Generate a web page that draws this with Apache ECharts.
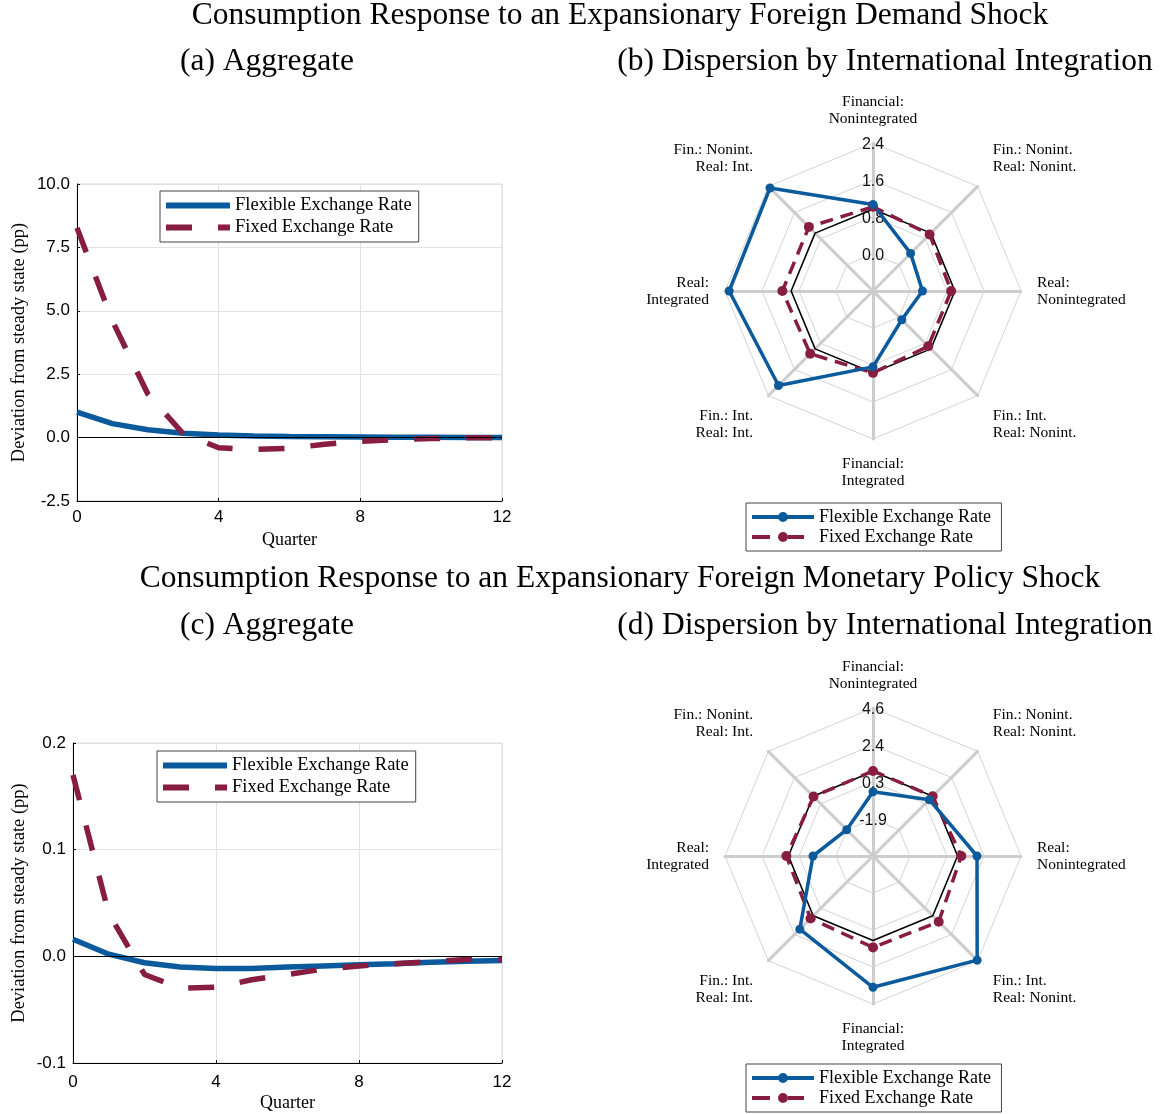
<!DOCTYPE html>
<html><head><meta charset="utf-8">
<script src="https://cdn.jsdelivr.net/npm/echarts@6/dist/echarts.min.js"></script>
<style>html,body{margin:0;padding:0;background:#fff}#c{width:1163px;height:1114px}</style>
</head><body><div id="c"></div>
<script>
// ---------- data ----------
const quarters = [0,1,2,3,4,5,6,7,8,9,10,11,12];
const demandFlexible = [1.00, 0.55, 0.31, 0.17, 0.10, 0.06, 0.04, 0.03, 0.02, 0.01, 0.01, 0.00, 0.00];
const demandFixed    = [8.27, 4.60, 1.72, 0.15, -0.40, -0.47, -0.42, -0.26, -0.15, -0.08, -0.04, -0.01, 0.00];
const monetaryFlexible = [0.016, 0.002, -0.006, -0.010, -0.0115, -0.0115, -0.010, -0.009, -0.008, -0.007, -0.0056, -0.0047, -0.0038];
const monetaryFixed    = [0.170, 0.040, -0.017, -0.030, -0.029, -0.022, -0.017, -0.012, -0.009, -0.007, -0.005, -0.003, -0.003];
const demandYTicks = [-2.5, 10, 2.5];      // min, max, step
const monetaryYTicks = [-0.1, 0.2, 0.1];
const xTicks = [0, 12, 4];

// radar axes, counter-clockwise from top
const radarNames = [
  'Financial:\nNonintegrated',
  'Fin.: Nonint.\nReal: Int.',
  'Real:\nIntegrated',
  'Fin.: Int.\nReal: Int.',
  'Financial:\nIntegrated',
  'Fin.: Int.\nReal: Nonint.',
  'Real:\nNonintegrated',
  'Fin.: Nonint.\nReal: Nonint.'
];
const radarDemandFlexible  = [1.07, 2.35, 2.31, 2.09, 0.84, 0.08, 0.27, 0.35];
const radarDemandFixed     = [1.02, 1.16, 1.16, 1.12, 0.97, 0.89, 0.89, 0.93];
const radarDemandAggregate = [0.97, 0.97, 0.97, 0.97, 0.97, 0.97, 0.97, 0.97];
const radarMonetaryFlexible  = [-0.31, -1.90, -0.56, 1.99, 3.62, 4.56, 2.02, 0.59];
const radarMonetaryFixed     = [0.91, 0.85, 1.00, 1.10, 1.28, 1.37, 1.10, 0.87];
const radarMonetaryAggregate = [0.88, 0.88, 0.88, 0.88, 0.88, 0.88, 0.88, 0.88];
const radarDemandRange = [-0.8, 2.4];
const radarMonetaryRange = [-4.08, 4.6];

const titles = {
  demand: 'Consumption Response to an Expansionary Foreign Demand Shock',
  monetary: 'Consumption Response to an Expansionary Foreign Monetary Policy Shock',
  a: '(a) Aggregate', b: '(b) Dispersion by International Integration',
  c: '(c) Aggregate', d: '(d) Dispersion by International Integration'
};
const seriesNames = ['Flexible Exchange Rate', 'Fixed Exchange Rate'];

// ---------- style ----------
const SERIF = '"Liberation Serif", "Times New Roman", serif';
const SANS = '"Liberation Sans", Arial, sans-serif';
const BLUE = '#0b5a9c', RED = '#871d40';
const radarLegendNames = seriesNames.map(n => n + ' ');
const blueIcon = 'path://M0,3H62V7H0Z M26,5A5,5 0 1,1 36,5A5,5 0 1,1 26,5Z';
const redIcon = 'path://M0,3H18V7H0Z M36,3H52V7H36Z M26,5A5,5 0 1,1 36,5A5,5 0 1,1 26,5Z M61.9,4.9H62V5.1H61.9Z';
const solidLineIcon = 'path://M0,0H64V6H0Z';
const dashLineIcon = 'path://M0,0H26V6H0Z M52,0H64V6H52Z';

const chart = echarts.init(document.getElementById('c'), null, {renderer: 'canvas', width: 1163, height: 1114});

function titleObj(text, x, y, size) {
  return {text, left: x, top: y, textAlign: 'center', padding: 0,
    textStyle: {fontFamily: SERIF, fontSize: size, fontWeight: 'normal', color: '#000'}};
}
function grid(left, top, width, height) {
  return {left, top, width, height, show: true, borderColor: '#d9d9d9', borderWidth: 1, backgroundColor: 'transparent'};
}
function xAxis(gridIndex, labelMargin, nameGap) {
  return {type: 'value', gridIndex, min: xTicks[0], max: xTicks[1], interval: xTicks[2],
    name: 'Quarter', nameLocation: 'middle', nameGap,
    nameTextStyle: {fontFamily: SERIF, fontSize: 18, color: '#000'},
    axisLine: {show: true, onZero: false, lineStyle: {color: '#000', width: 1}},
    axisTick: {show: true, inside: true, length: 3, lineStyle: {color: '#000'}},
    axisLabel: {fontFamily: SANS, fontSize: 17, color: '#000', margin: labelMargin},
    splitLine: {show: true, lineStyle: {color: '#e2e2e2', width: 1}}};
}
function yAxis(gridIndex, ticks, nameGap) {
  return {type: 'value', gridIndex, min: ticks[0], max: ticks[1], interval: ticks[2],
    name: 'Deviation from steady state (pp)', nameLocation: 'middle', nameGap,
    nameTextStyle: {fontFamily: SERIF, fontSize: 18.5, color: '#000'},
    axisLine: {show: true, onZero: false, lineStyle: {color: '#000', width: 1}},
    axisTick: {show: true, inside: true, length: 3, lineStyle: {color: '#000'}},
    axisLabel: {fontFamily: SANS, fontSize: 17, color: '#000', margin: 7, formatter: v => v.toFixed(1)},
    splitLine: {show: true, lineStyle: {color: '#e2e2e2', width: 1}}};
}
function lineSeries(name, idx, ys, color, dashed) {
  const s = {type: 'line', name, xAxisIndex: idx, yAxisIndex: idx,
    data: quarters.map((q, i) => [q, ys[i]]), symbol: 'none', showSymbol: false,
    lineStyle: {color, width: 5.5, type: dashed ? [26, 26] : 'solid', cap: 'butt'},
    itemStyle: {color}, silent: true, animation: false, z: dashed ? 3 : 2};
  if (!dashed) {
    s.markLine = {silent: true, symbol: ['none', 'none'], label: {show: false}, animation: false,
      lineStyle: {color: '#000', width: 1, type: 'solid'}, data: [{yAxis: 0}], z: 5};
  }
  return s;
}
function lineLegend(left, top) {
  return {orient: 'vertical', left, top, itemWidth: 64, itemHeight: 6, itemGap: 3,
    data: [{name: seriesNames[0], icon: solidLineIcon}, {name: seriesNames[1], icon: dashLineIcon}],
    padding: [5, 7, 5, 6], borderColor: '#444', borderWidth: 1, borderRadius: 0, backgroundColor: '#fff',
    selectedMode: false, itemStyle: {borderWidth: 0},
    textStyle: {fontFamily: SERIF, fontSize: 18.5, color: '#000'}};
}
function radarLegend(pos) {
  return Object.assign({orient: 'vertical', itemWidth: 62, itemHeight: 10, itemGap: 2,
    data: [{name: radarLegendNames[0], icon: blueIcon}, {name: radarLegendNames[1], icon: redIcon}],
    padding: [5, 6, 5, 6], borderColor: '#444', borderWidth: 1, borderRadius: 0, backgroundColor: '#fff',
    selectedMode: false, itemStyle: {borderWidth: 0},
    textStyle: {fontFamily: SERIF, fontSize: 18, color: '#000'}}, pos);
}
function radarCoord(center, range) {
  return {center, radius: 148, startAngle: 90, shape: 'polygon', splitNumber: 4, nameGap: 16,
    indicator: radarNames.map((n, i) => {
      const ind = {name: n, min: range[0], max: range[1]};
      if (i === 0) ind.axisLabel = {show: true};
      return ind;
    }),
    axisName: {color: '#000', fontFamily: SERIF, fontSize: 15.5, lineHeight: 17,
      formatter: (name) => {
        const i = radarNames.indexOf(name);
        const lines = name.split('\n');
        if (i === 1) return lines.map(l => l + ' ').join('\n') + '\n\n';
        if (i === 3) return '\n\n' + lines.map(l => l + ' ').join('\n');
        if (i === 7) return lines.map(l => ' ' + l).join('\n') + '\n\n';
        if (i === 5) return '\n\n' + lines.map(l => ' ' + l).join('\n');
        return name;
      }},
    splitLine: {lineStyle: {color: '#d5d5d5', width: 1}},
    splitArea: {show: false},
    axisLine: {lineStyle: {color: '#cdcdcd', width: 3}},
    axisTick: {show: false},
    axisLabel: {show: false, showMinLabel: false, fontFamily: SANS, fontSize: 16, color: '#111',
      margin: 0, align: 'center', verticalAlign: 'top', lineHeight: 4, formatter: v => v.toFixed(1)}};
}
function radarSeries(radarIndex, agg, fixed, flex) {
  return {type: 'radar', radarIndex, silent: true, animation: false,
    data: [
      {name: 'Aggregate', value: agg, symbol: 'none', lineStyle: {color: '#000', width: 1.6}, itemStyle: {color: '#000'}},
      {name: radarLegendNames[1], value: fixed, symbol: 'circle', symbolSize: 10,
        lineStyle: {color: RED, width: 3.5, type: [13, 8]}, itemStyle: {color: RED}},
      {name: radarLegendNames[0], value: flex, symbol: 'circle', symbolSize: 9,
        lineStyle: {color: BLUE, width: 3.5, type: 'solid'}, itemStyle: {color: BLUE}}
    ]};
}

const option = {
  backgroundColor: '#fff',
  animation: false,
  title: [
    titleObj(titles.demand, 620, 0, 31.5),
    titleObj(titles.a, 267, 46, 31.5),
    titleObj(titles.b, 885, 46, 31.5),
    titleObj(titles.monetary, 620, 563, 31.5),
    titleObj(titles.c, 267, 610, 31.5),
    titleObj(titles.d, 885, 610, 31.5)
  ],
  grid: [grid(77, 184, 425, 317), grid(73, 743, 429, 320)],
  xAxis: [xAxis(0, 8, 30), xAxis(1, 11, 31)],
  yAxis: [yAxis(0, demandYTicks, 48), yAxis(1, monetaryYTicks, 44)],
  radar: [radarCoord([873, 291], radarDemandRange), radarCoord([873, 856], radarMonetaryRange)],
  legend: [lineLegend(160, 191), lineLegend(157, 751), radarLegend({left: 746, top: 503}), radarLegend({left: 746, bottom: 2})],
  series: [
    lineSeries(seriesNames[0], 0, demandFlexible, BLUE, false),
    lineSeries(seriesNames[1], 0, demandFixed, RED, true),
    lineSeries(seriesNames[0], 1, monetaryFlexible, BLUE, false),
    lineSeries(seriesNames[1], 1, monetaryFixed, RED, true),
    radarSeries(0, radarDemandAggregate, radarDemandFixed, radarDemandFlexible),
    radarSeries(1, radarMonetaryAggregate, radarMonetaryFixed, radarMonetaryFlexible)
  ]
};
chart.setOption(option);
</script>
</body></html>
